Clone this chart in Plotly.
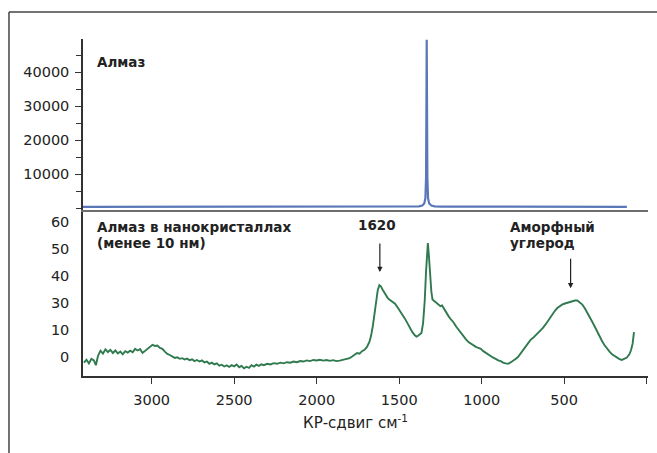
import plotly.graph_objects as go

# ---------------- data ----------------
# Top panel: diamond (Алмаз) Raman spectrum
diamond_shift = [3420, 3000, 2700, 2300, 2000, 1700, 1500, 1420, 1380, 1360, 1348, 1341, 1337, 1335,
                 1333, 1331, 1329, 1325, 1318, 1305, 1285, 1240, 1000, 700, 500, 300, 120]
diamond_int = [450, 470, 440, 460, 480, 470, 500, 520, 600, 800, 1400, 3000, 9000, 28000,
               49500, 28000, 9000, 3000, 1400, 800, 600, 520, 500, 520, 560, 500, 450]

# Bottom panel: nanocrystalline diamond (<10 nm) spectrum
nano_shift = [3410, 3395, 3380, 3365, 3350, 3338, 3325, 3310, 3295, 3280, 3265, 3250, 3235, 3220, 3205,
              3190, 3175, 3160, 3145, 3130, 3115, 3100, 3085, 3070, 3055, 3040, 3025, 3010, 2995, 2980,
              2965, 2950, 2935, 2920, 2905, 2890, 2875, 2860, 2845, 2830, 2815, 2800, 2785, 2770, 2755,
              2740, 2725, 2710, 2695, 2680, 2665, 2650, 2635, 2620, 2605, 2590, 2575, 2560, 2545, 2530,
              2515, 2500, 2485, 2470, 2455, 2440, 2425, 2410, 2395, 2380, 2365, 2350, 2335, 2320, 2300,
              2280, 2260, 2240, 2220, 2200, 2180, 2160, 2140, 2120, 2100, 2080, 2060, 2040, 2020, 2000,
              1980, 1960, 1940, 1920, 1900, 1880, 1860, 1840, 1820, 1800, 1785, 1770, 1755, 1740, 1725,
              1710, 1695, 1680, 1670, 1660, 1650, 1640, 1630, 1620, 1610, 1600, 1590, 1580, 1570, 1560,
              1550, 1540, 1525, 1510, 1495, 1480, 1465, 1450, 1435, 1420, 1405, 1395, 1385, 1375, 1365,
              1355, 1345, 1337, 1330, 1326, 1320, 1312, 1305, 1298, 1290, 1280, 1270, 1260, 1250, 1240,
              1230, 1215, 1200, 1185, 1170, 1155, 1140, 1125, 1110, 1095, 1080, 1065, 1050, 1035, 1020,
              1005, 990, 975, 960, 945, 930, 915, 900, 885, 870, 855, 840, 825, 810, 795,
              780, 765, 750, 735, 720, 705, 690, 675, 660, 645, 630, 615, 600, 585, 570,
              555, 540, 525, 510, 495, 480, 465, 450, 435, 420, 405, 390, 375, 360, 345,
              330, 315, 300, 285, 270, 255, 240, 225, 210, 195, 180, 165, 150, 135, 120,
              105, 95, 85, 77]
nano_int = [-2.5, -1.2, -2.8, -0.8, -1.5, -3.6, 0.5, 2.8, 1.5, 3.4, 2.2, 3.2, 1.8, 2.9, 1.6,
            2.4, 1.2, 2.6, 2.0, 2.8, 2.1, 3.6, 2.9, 3.5, 1.8, 2.6, 3.8, 4.6, 5.4, 4.9,
            5.1, 4.0, 3.6, 2.4, 1.4, 0.9, 0.2, -0.4, -0.1, -0.8, -0.5, -1.1, -0.7, -1.4, -1.0,
            -1.8, -1.3, -2.0, -1.5, -2.4, -2.0, -3.0, -2.5, -3.3, -2.8, -3.8, -3.4, -4.2, -3.7, -4.4,
            -3.6, -4.1, -3.3, -4.5, -3.9, -5.0, -4.3, -4.8, -3.6, -4.2, -3.4, -3.9, -3.2, -3.6, -3.0,
            -3.3, -2.7, -3.0, -2.5, -2.8, -2.3, -2.5, -2.0, -2.3, -1.8, -2.0, -1.5, -1.8, -1.3, -1.5,
            -1.2, -1.6, -1.3, -1.7, -1.4, -1.8, -1.6, -1.2, -0.9, -0.5, 0.2, 1.0, 1.8, 1.5, 2.6,
            3.2, 4.5, 6.8, 9.5, 13.5, 19.0, 25.0, 29.5, 31.8, 31.2, 29.8, 28.5, 27.3, 26.2, 25.5,
            25.0, 24.3, 23.6, 22.0, 20.4, 18.8, 17.0, 15.0, 12.8, 11.0, 9.6, 9.0, 9.4, 10.0, 10.6,
            15.0, 25.0, 38.0, 48.5, 50.5, 45.0, 36.0, 29.0, 25.5, 25.0, 24.5, 24.0, 23.5, 22.5, 22.8,
            21.5, 19.5, 18.0, 16.5, 15.3, 13.5, 12.0, 10.5, 9.0, 7.8, 6.6, 5.8, 5.4, 4.5, 4.0,
            3.6, 2.6, 1.8, 0.9, 0.3, -0.3, -0.8, -1.5, -1.8, -2.5, -2.8, -3.0, -2.4, -1.8, -0.9,
            0.0, 1.6, 3.2, 4.8, 6.2, 7.5, 8.4, 9.5, 10.8, 11.5, 12.8, 14.2, 15.8, 17.3, 19.2,
            20.6, 21.8, 22.6, 23.3, 23.7, 24.1, 24.4, 24.6, 25.0, 25.0, 24.2, 23.2, 21.6, 19.8, 17.8,
            15.6, 13.5, 11.2, 9.0, 7.0, 5.2, 3.6, 2.4, 1.2, 0.5, -0.4, -0.9, -1.3, -0.8, -0.2,
            1.2, 3.0, 6.0, 11.0]

x_tickvals = [0, 500, 1000, 1500, 2000, 2500, 3000]
x_ticktext = ["", "500", "1000", "1500", "2000", "2500", "3000"]
top_tickvals = [10000, 20000, 30000, 40000]
top_ticktext = ["10000", "20000", "30000", "40000"]
bottom_tickvals = [0, 12, 24, 36, 48, 60]
bottom_ticktext = ["0", "10", "30", "40", "50", "60"]

x_title = "КР-сдвиг см<sup>-1</sup>"
label_top = "Алмаз"
label_nano1 = "Алмаз в нанокристаллах"
label_nano2 = "(менее 10 нм)"
label_peak = "1620"
label_amorph1 = "Аморфный"
label_amorph2 = "углерод"

# ---------------- figure ----------------
FONT = "DejaVu Sans"
TXT = "#222222"
AX = "#333333"

fig = go.Figure()
fig.add_trace(go.Scatter(x=diamond_shift, y=diamond_int, mode="lines", xaxis="x2", yaxis="y2",
                         line=dict(color="#5a78b8", width=2.2), hoverinfo="skip", showlegend=False))
fig.add_trace(go.Scatter(x=nano_shift, y=nano_int, mode="lines", xaxis="x", yaxis="y",
                         line=dict(color="#2f7a4e", width=1.9), hoverinfo="skip", showlegend=False))

split = 0.494
xrange = [3416, -8]

fig.update_layout(
    width=657, height=453,
    margin=dict(l=83, r=9, t=39, b=77),
    paper_bgcolor="white", plot_bgcolor="white",
    font=dict(family=FONT, size=14.5, color=TXT),
    xaxis=dict(domain=[0, 1], range=xrange, anchor="y",
               tickvals=x_tickvals, ticktext=x_ticktext,
               ticks="outside", ticklen=6, tickwidth=1.3, tickcolor=AX,
               showline=True, linecolor=AX, linewidth=1.5,
               showgrid=False, zeroline=False, ticklabelstandoff=4),
    xaxis2=dict(domain=[0, 1], range=xrange, anchor="y2", matches="x",
                showticklabels=False, ticks="", showline=True, linecolor="#6e6e6e", linewidth=1.6,
                showgrid=False, zeroline=False),
    yaxis=dict(domain=[0, split], range=[-8.4, 65.3], anchor="x",
               tickvals=bottom_tickvals, ticktext=bottom_ticktext,
               ticks="", showline=True, linecolor=AX, linewidth=1.5,
               showgrid=False, zeroline=False, ticklabelstandoff=9),
    yaxis3=dict(domain=[0, split], range=[-8.4, 65.3], overlaying="y", side="left", anchor="x",
                tick0=0, dtick=10, showticklabels=False,
                ticks="outside", ticklen=5, tickwidth=1.3, tickcolor=AX,
                showline=False, showgrid=False, zeroline=False),
    yaxis2=dict(domain=[split, 1], range=[-350, 49700], anchor="x2",
                tickvals=top_tickvals, ticktext=top_ticktext,
                ticks="outside", ticklen=6, tickwidth=1.3, tickcolor=AX,
                minor=dict(dtick=5000, tick0=5000, ticks="outside", ticklen=5, tickwidth=1.3, tickcolor=AX),
                showline=True, linecolor=AX, linewidth=1.5,
                showgrid=False, zeroline=False, ticklabelstandoff=3),
)

# frame lines (top and left)
fig.add_shape(type="line", xref="paper", yref="paper", x0=-0.131, x1=1.02, y0=1.080, y1=1.080,
              line=dict(color="#444444", width=1.5))
fig.add_shape(type="line", xref="paper", yref="paper", x0=-0.131, x1=-0.131, y0=1.080, y1=-0.25,
              line=dict(color="#444444", width=1.5))

bold = dict(family=FONT, size=13.5, color=TXT, weight="bold")
fig.add_annotation(text=label_top, x=3344, y=43000, xref="x2", yref="y2", xanchor="left",
                   yanchor="middle", showarrow=False, font=bold)
fig.add_annotation(text=label_nano1, x=3344, y=57.6, xref="x", yref="y", xanchor="left",
                   yanchor="middle", showarrow=False, font=bold)
fig.add_annotation(text=label_nano2, x=3344, y=50.6, xref="x", yref="y", xanchor="left",
                   yanchor="middle", showarrow=False, font=bold)
fig.add_annotation(text=label_peak, x=1636, y=58.4, xref="x", yref="y", xanchor="center",
                   yanchor="middle", showarrow=False, font=bold)
fig.add_annotation(text=label_amorph1, x=842, y=57.6, xref="x", yref="y", xanchor="left",
                   yanchor="middle", showarrow=False, font=bold)
fig.add_annotation(text=label_amorph2, x=842, y=50.6, xref="x", yref="y", xanchor="left",
                   yanchor="middle", showarrow=False, font=bold)

# arrows
fig.add_annotation(x=1617, y=37.6, ax=1617, ay=50.9, xref="x", yref="y", axref="x", ayref="y",
                   text="", showarrow=True, arrowhead=2, arrowsize=0.9, arrowwidth=1.2,
                   arrowcolor="#222222", standoff=0)
fig.add_annotation(x=461, y=30.4, ax=461, ay=44.2, xref="x", yref="y", axref="x", ayref="y",
                   text="", showarrow=True, arrowhead=2, arrowsize=0.9, arrowwidth=1.2,
                   arrowcolor="#222222", standoff=0)

# axis title
fig.add_annotation(text=x_title, x=0.483, y=-0.136, xref="paper", yref="paper",
                   xanchor="center", yanchor="middle", showarrow=False,
                   font=dict(family=FONT, size=15, color=TXT))

fig.write_html("out.html")
